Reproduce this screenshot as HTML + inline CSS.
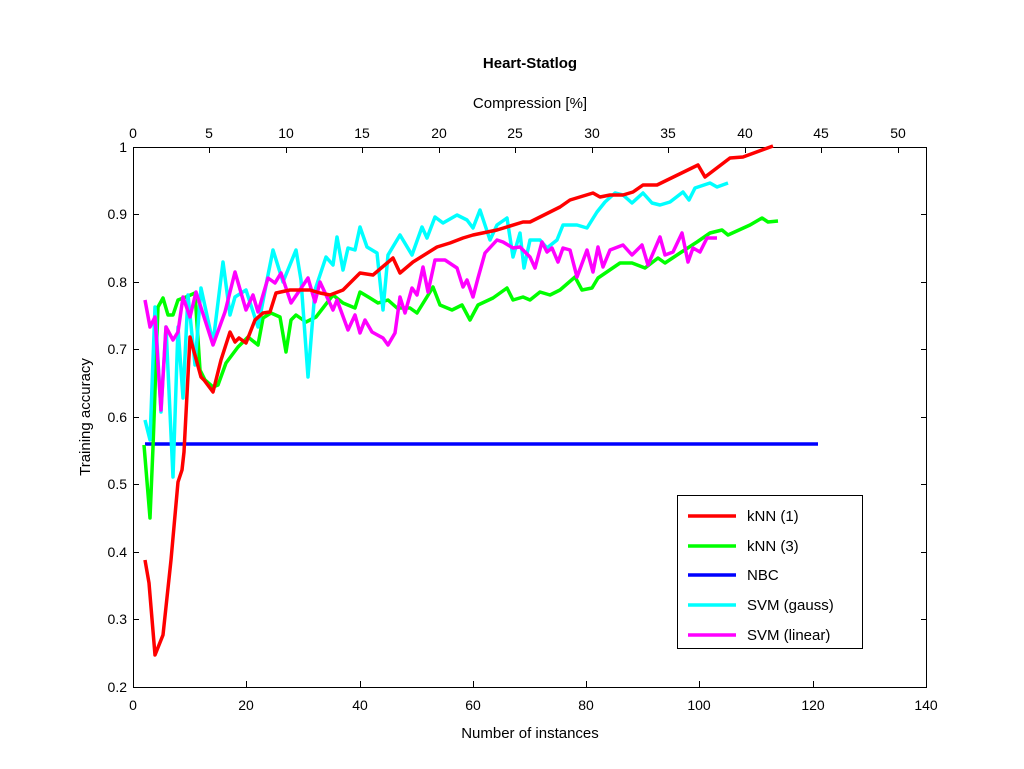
<!DOCTYPE html>
<html><head><meta charset="utf-8"><style>
html,body{margin:0;padding:0;background:#fff;}
svg{display:block;font-family:"Liberation Sans",Arial,sans-serif;}
</style></head><body>
<svg width="1024" height="769" viewBox="0 0 1024 769" xmlns="http://www.w3.org/2000/svg">
<rect width="1024" height="769" fill="#fff"/>
<text x="530" y="68" font-size="15" font-weight="bold" text-anchor="middle">Heart-Statlog</text>
<text x="530" y="108" font-size="15" text-anchor="middle">Compression [%]</text>
<text x="530" y="738" font-size="15" text-anchor="middle">Number of instances</text>
<text transform="translate(90,417) rotate(-90)" font-size="15" text-anchor="middle">Training accuracy</text>
<g stroke="#000" stroke-width="1" fill="none">
<rect x="133.5" y="147.5" width="793" height="540"/>
</g>
<g stroke="#000" stroke-width="1" id="ticks">
<!-- bottom ticks -->
<path d="M133.5 687v-6M246.5 687v-6M360.5 687v-6M473.5 687v-6M586.5 687v-6M699.5 687v-6M813.5 687v-6M926.5 687v-6"/>
<!-- top ticks -->
<path d="M133.5 147v6M209.5 147v6M286.5 147v6M362.5 147v6M439.5 147v6M515.5 147v6M592.5 147v6M668.5 147v6M745.5 147v6M821.5 147v6M898.5 147v6"/>
<!-- y ticks -->
<path d="M133 147.5h6M133 214.5h6M133 282.5h6M133 349.5h6M133 417.5h6M133 484.5h6M133 552.5h6M133 619.5h6M133 687.5h6"/>
<path d="M927 147.5h-6M927 214.5h-6M927 282.5h-6M927 349.5h-6M927 417.5h-6M927 484.5h-6M927 552.5h-6M927 619.5h-6"/>
</g>
<g font-size="14" text-anchor="middle">
<text x="133" y="710">0</text><text x="246" y="710">20</text><text x="360" y="710">40</text><text x="473" y="710">60</text><text x="586" y="710">80</text><text x="699" y="710">100</text><text x="813" y="710">120</text><text x="926" y="710">140</text>
<text x="133" y="138">0</text><text x="209" y="138">5</text><text x="286" y="138">10</text><text x="362" y="138">15</text><text x="439" y="138">20</text><text x="515" y="138">25</text><text x="592" y="138">30</text><text x="668" y="138">35</text><text x="745" y="138">40</text><text x="821" y="138">45</text><text x="898" y="138">50</text>
</g>
<g font-size="14" text-anchor="end">
<text x="127" y="152">1</text><text x="127" y="219">0.9</text><text x="127" y="287">0.8</text><text x="127" y="354">0.7</text><text x="127" y="422">0.6</text><text x="127" y="489">0.5</text><text x="127" y="557">0.4</text><text x="127" y="624">0.3</text><text x="127" y="692">0.2</text>
</g>
<g fill="none" stroke-width="3.5" stroke-linejoin="round">
<polyline stroke="#0000ff" points="145,444 818,444"/>
<polyline stroke="#00ff00" points="144,445 150,518 153,447 158,307 163,298 168,315 173,315 178,300 186,297 195,293 200,370 205,380 213,387 218,385 226,363 238,347 248,337 258,345 263,318 271,313 280,317 286,352 291,320 296,315 306,322 316,317 333,295 343,303 355,308 360,292 370,298 378,303 388,300 397,308 410,308 417,313 430,292 433,287 440,305 452,310 462,305 470,320 478,305 493,298 507,288 513,300 523,297 530,300 540,292 550,295 560,290 575,277 582,290 592,288 598,278 620,263 632,263 645,268 658,258 665,263 680,253 697,242 710,233 722,230 728,235 750,225 762,218 768,222 778,221"/>
<polyline stroke="#00ffff" points="145,420 150,440 155,307 161,412 166,327 173,477 178,327 183,398 188,295 195,365 201,288 213,343 223,262 230,315 235,297 246,290 258,327 268,275 273,250 283,282 296,250 301,280 308,377 315,290 326,257 333,265 337,237 343,270 348,248 355,250 360,227 367,247 377,253 383,310 388,255 400,235 412,255 422,227 427,238 435,217 443,223 457,215 467,220 473,228 480,210 490,240 497,225 507,218 513,257 520,233 524,268 530,240 540,240 547,248 557,240 563,225 577,225 587,228 597,212 605,202 615,193 623,195 632,203 643,193 652,203 660,205 670,202 683,192 689,200 695,188 710,183 717,187 728,183"/>
<polyline stroke="#ff00ff" points="145,300 150,327 155,317 161,410 166,327 173,340 178,332 183,297 190,317 196,292 213,345 225,312 235,272 246,310 253,295 258,312 268,278 275,283 281,273 291,303 308,278 315,302 320,282 333,310 337,300 348,330 355,315 360,333 365,320 372,332 383,338 388,345 395,333 400,297 405,313 412,288 417,295 423,267 428,292 435,260 445,260 457,268 463,287 467,280 473,297 478,278 485,253 497,240 503,242 513,248 520,247 530,257 535,268 542,242 547,252 552,248 558,262 563,248 570,250 577,277 587,250 593,272 598,247 603,267 610,250 623,245 632,255 642,245 648,265 660,237 665,255 673,252 682,233 688,262 693,248 700,252 707,238 717,238"/>
<polyline stroke="#ff0000" points="145,560 149,583 155,655 163,635 171,560 178,482 182,470 184,452 190,337 201,377 204,380 213,392 221,360 230,332 235,342 239,338 246,343 255,320 263,313 270,312 276,293 290,290 310,290 320,293 330,295 343,290 360,273 373,275 393,258 400,273 413,262 437,247 450,243 463,238 473,235 497,230 523,222 530,222 560,207 570,200 593,193 600,197 610,195 623,195 633,192 643,185 657,185 698,165 705,177 730,158 743,157 773,146"/>
</g>
<rect x="677.5" y="495.5" width="185" height="153" fill="#fff" stroke="#000"/>
<g stroke-width="3.5">
<line x1="688" y1="516" x2="736" y2="516" stroke="#ff0000"/>
<line x1="688" y1="546" x2="736" y2="546" stroke="#00ff00"/>
<line x1="688" y1="575" x2="736" y2="575" stroke="#0000ff"/>
<line x1="688" y1="605" x2="736" y2="605" stroke="#00ffff"/>
<line x1="688" y1="635" x2="736" y2="635" stroke="#ff00ff"/>
</g>
<g font-size="15">
<text x="747" y="521">kNN (1)</text>
<text x="747" y="551">kNN (3)</text>
<text x="747" y="580">NBC</text>
<text x="747" y="610">SVM (gauss)</text>
<text x="747" y="640">SVM (linear)</text>
</g>
</svg>
</body></html>
